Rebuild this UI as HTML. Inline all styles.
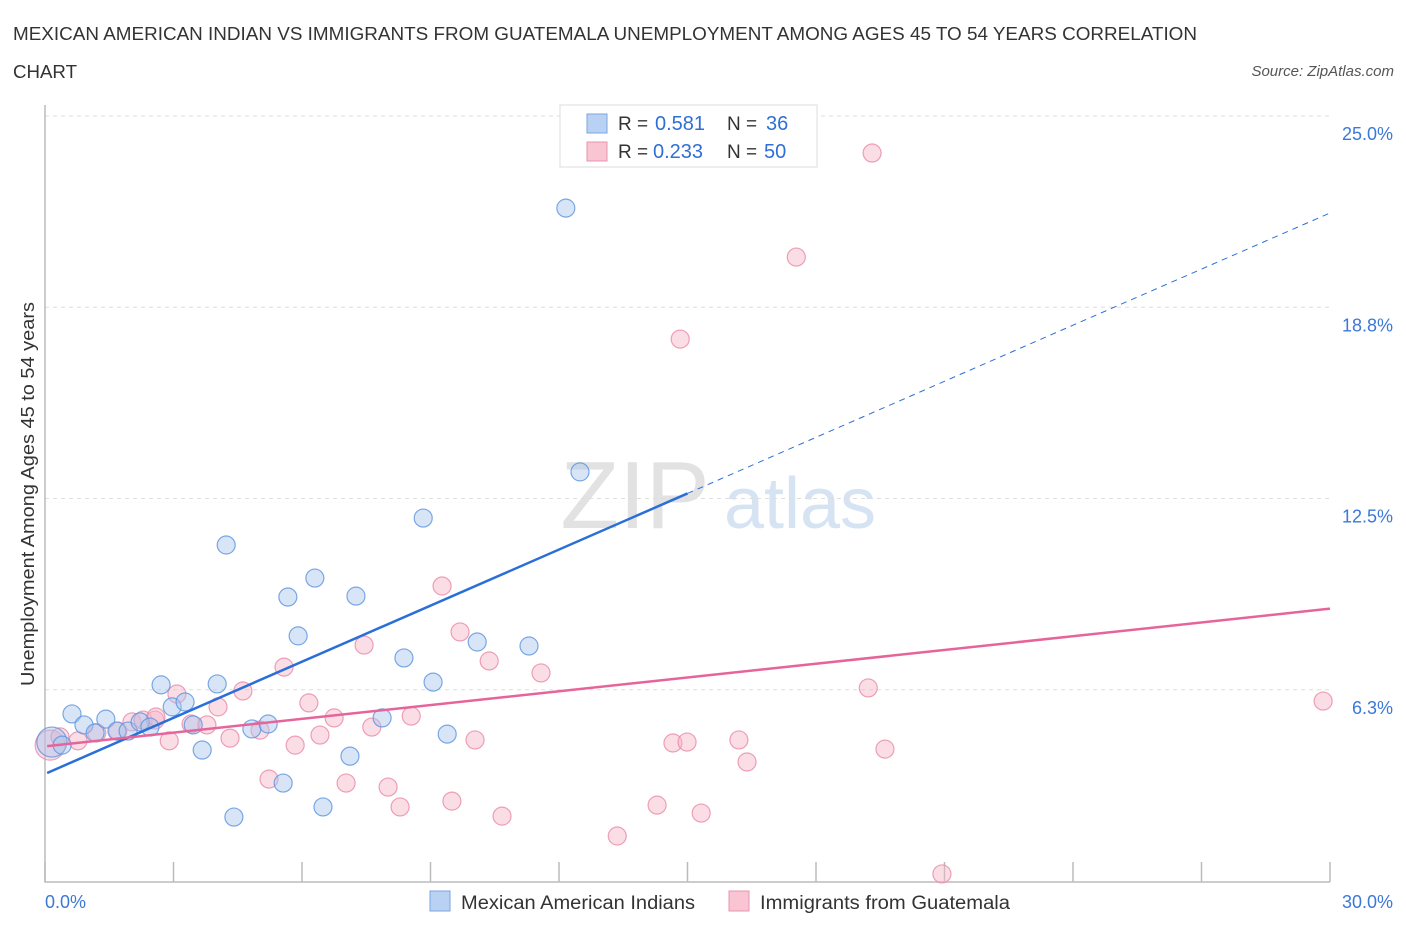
<!DOCTYPE html>
<html><head><meta charset="utf-8"><style>
body{margin:0;background:#fff;font-family:"Liberation Sans",sans-serif;}
svg text{font-family:"Liberation Sans",sans-serif;}
</style></head><body>
<svg id="chart" width="1406" height="930" xmlns="http://www.w3.org/2000/svg">
<text x="13" y="40" font-size="18" fill="#333" textLength="1184" lengthAdjust="spacingAndGlyphs">MEXICAN AMERICAN INDIAN VS IMMIGRANTS FROM GUATEMALA UNEMPLOYMENT AMONG AGES 45 TO 54 YEARS CORRELATION</text>
<text x="13" y="78" font-size="18" fill="#333" textLength="64" lengthAdjust="spacingAndGlyphs">CHART</text>
<text x="1394" y="76" font-size="15" fill="#555" font-style="italic" text-anchor="end">Source: ZipAtlas.com</text>
<g>
<text x="635" y="528" font-size="96" fill="#e2e2e2" font-family="Liberation Serif" text-anchor="middle">ZIP</text>
<text x="800" y="528" font-size="72" fill="#d5e3f3" text-anchor="middle">atlas</text>
</g>
<g id="grid"></g>
<g id="axes"></g>
<g id="marks"></g>
<text transform="translate(34,494) rotate(-90)" font-size="18" fill="#333" text-anchor="middle" textLength="384" lengthAdjust="spacingAndGlyphs">Unemployment Among Ages 45 to 54 years</text>
<g>
<rect x="560" y="105" width="257" height="62" fill="#fff" stroke="#ddd"/>
<rect x="587" y="114" width="20" height="19" fill="#b9d2f3" stroke="#7aa6e0"/>
<text x="618" y="130" font-size="19" fill="#333">R =</text>
<text x="655" y="130" font-size="20" fill="#2f6fd6">0.581</text>
<text x="727" y="130" font-size="19" fill="#333">N =</text>
<text x="766" y="130" font-size="20" fill="#2f6fd6">36</text>
<rect x="587" y="142" width="20" height="19" fill="#f9c5d3" stroke="#e894ae"/>
<text x="618" y="158" font-size="19" fill="#333">R =</text>
<text x="653" y="158" font-size="20" fill="#2f6fd6">0.233</text>
<text x="727" y="158" font-size="19" fill="#333">N =</text>
<text x="764" y="158" font-size="20" fill="#2f6fd6">50</text>
</g>
<g>
<rect x="430" y="891" width="20" height="20" fill="#b9d2f3" stroke="#7aa6e0"/>
<text x="461" y="909" font-size="19" fill="#333" textLength="234" lengthAdjust="spacingAndGlyphs">Mexican American Indians</text>
<rect x="729" y="891" width="20" height="20" fill="#f9c5d3" stroke="#e894ae"/>
<text x="760" y="909" font-size="19" fill="#333" textLength="250" lengthAdjust="spacingAndGlyphs">Immigrants from Guatemala</text>
</g>
</svg>
<script>
const yTicks=[6.25,12.5,18.75,25];
const yTickLabels=["6.3%","12.5%","18.8%","25.0%"];
const xTickLabels=["0.0%","30.0%"];
const blueX=[0.16,0.40,0.63,0.91,1.17,1.42,1.68,1.94,2.22,2.45,2.71,2.97,3.27,3.46,3.67,4.02,4.23,4.41,4.83,5.21,5.56,5.67,5.91,6.30,6.49,7.12,7.26,7.87,8.38,8.83,9.06,9.39,10.09,11.30,12.16,12.49];
const blueY=[4.54,4.44,5.46,5.10,4.84,5.29,4.90,4.90,5.20,5.03,6.41,5.69,5.85,5.10,4.28,6.44,10.98,2.09,4.97,5.13,3.20,9.28,8.01,9.90,2.42,4.08,9.31,5.33,7.29,11.86,6.50,4.80,7.81,7.68,21.99,13.37];
const pinkX=[0.12,0.35,0.77,1.21,1.70,2.03,2.29,2.57,2.90,3.08,3.41,3.78,4.04,4.32,4.62,5.02,5.23,5.58,5.84,6.16,6.42,6.75,7.03,7.45,7.63,8.01,8.29,8.55,9.27,9.50,9.69,10.04,10.37,10.67,11.58,13.36,14.29,14.66,14.99,15.32,16.20,16.39,17.54,19.22,19.31,19.61,20.94,29.84,14.83,2.59];
const pinkY=[4.44,4.71,4.58,4.84,4.90,5.20,5.26,5.26,4.58,6.11,5.13,5.10,5.69,4.67,6.21,4.93,3.33,6.99,4.44,5.82,4.77,5.33,3.20,7.71,5.03,3.07,2.42,5.39,9.64,2.61,8.14,4.61,7.19,2.12,6.80,1.47,2.48,4.51,4.54,2.22,4.61,3.89,20.39,6.31,23.79,4.31,0.23,5.88,17.71,5.36];
const blueTrend=[3.50,0.611];
const pinkTrend=[4.40,0.150];
const NS="http://www.w3.org/2000/svg";
const X=v=>45+v*(1285/30);
const Y=v=>881-v*30.6;
function mk(parent,tag,attrs){const e=document.createElementNS(NS,tag);for(const k in attrs)e.setAttribute(k,attrs[k]);document.getElementById(parent).appendChild(e);return e;}
yTicks.forEach((t,i)=>{
 const g=mk('grid','line',{x1:45,x2:1330,y1:Y(t),y2:Y(t),stroke:'#ddd','stroke-dasharray':'4,4'});
 
 
 const l=mk('grid','text',{x:1393,y:Y(t)+24,'font-size':18,fill:'#3b78d8','text-anchor':'end'});
 l.textContent=yTickLabels[i];
 
 
});
const ax=mk('axes','path',{d:'M45 105 V882 H1330',fill:'none',stroke:'#bbb','stroke-width':1.5});


for(let i=0;i<=10;i++){
 const t=mk('axes','line',{x1:X(i*3),x2:X(i*3),y1:862,y2:882,stroke:'#bbb','stroke-width':1.5});
 
 
}
[[0,'start',45],[30,'end',1393]].forEach((d,i)=>{
 const l=mk('axes','text',{x:d[2],y:908,'font-size':18,fill:'#3b78d8','text-anchor':d[1]});
 l.textContent=xTickLabels[i];
 
 
});
function dots(xs,ys,fill,stroke,name){
 xs.forEach((x,i)=>{
  const big=(i===0);
  const c=mk('marks','circle',{cx:X(x),cy:Y(ys[i]),r:big?15:9,fill:fill,'fill-opacity':0.45,stroke:stroke,'stroke-opacity':0.8,'stroke-width':1.2});
  
  
 });
}
dots(pinkX,pinkY,'#f7b3c7','#e88aa8','pink-point');
dots(blueX,blueY,'#a9c6ee','#5a94e0','blue-point');
const b1=mk('marks','line',{x1:X(0.05),y1:Y(blueTrend[0]+blueTrend[1]*0.05),x2:X(15),y2:Y(blueTrend[0]+blueTrend[1]*15),stroke:'#2a6fd8','stroke-width':2.5});


const b2=mk('marks','line',{x1:X(15),y1:Y(blueTrend[0]+blueTrend[1]*15),x2:X(30),y2:Y(blueTrend[0]+blueTrend[1]*30),stroke:'#2a6fd8','stroke-width':1,'stroke-dasharray':'6,5'});


const p1=mk('marks','line',{x1:X(0.05),y1:Y(pinkTrend[0]+pinkTrend[1]*0.05),x2:X(30),y2:Y(pinkTrend[0]+pinkTrend[1]*30),stroke:'#e7649a','stroke-width':2.5});


</script>
</body></html>
